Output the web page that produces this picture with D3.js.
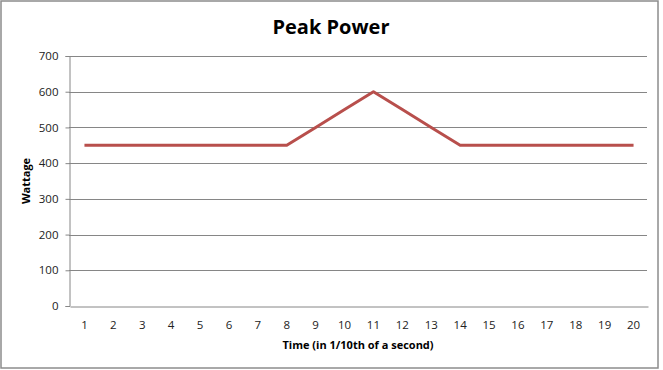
<!DOCTYPE html>
<html>
<head>
<meta charset="utf-8">
<script src="https://cdn.jsdelivr.net/npm/d3@7"></script>
<style>
  body { margin: 0; background: #fff; }
  text { font-family: "Open Sans", "DejaVu Sans", sans-serif; }
</style>
</head>
<body>
<div id="chart"></div>
<script>
// Peak power over time
const times = ["1","2","3","4","5","6","7","8","9","10","11","12","13","14","15","16","17","18","19","20"];
const wattage = [450,450,450,450,450,450,450,450,500,550,600,550,500,450,450,450,450,450,450,450];
const yTicks = [0,100,200,300,400,500,600,700];

const width = 663;
const height = 370;
const margin = {top: 56, right: 16, bottom: 64, left: 69};

const svg = d3.select("#chart")
  .append("svg")
  .attr("width", width)
  .attr("height", height);

// outer border
svg.append("rect")
  .attr("x", 1).attr("y", 1)
  .attr("width", width - 6).attr("height", height - 3)
  .attr("fill", "#fff")
  .attr("stroke", "#8c8c8c")
  .attr("stroke-width", 1.5);

const x = d3.scaleBand()
  .domain(times)
  .range([margin.left + 1, width - margin.right + 1]);

const y = d3.scaleLinear()
  .domain([0, 700])
  .range([height - margin.bottom, margin.top]);

// gridlines
svg.append("g")
  .selectAll("line")
  .data(yTicks.slice(1))
  .enter()
  .append("line")
  .attr("x1", margin.left)
  .attr("x2", width - margin.right)
  .attr("y1", d => Math.round(y(d)) + 0.5)
  .attr("y2", d => Math.round(y(d)) + 0.5)
  .attr("stroke", "#868686")
  .attr("stroke-width", 1);

// y axis
const yAxis = svg.append("g")
  .attr("transform", `translate(${margin.left + 0.5},0)`)
  .call(d3.axisLeft(y).tickValues(yTicks).tickSize(4).tickPadding(7));
yAxis.select(".domain").attr("stroke", "#868686");
yAxis.selectAll(".tick line").attr("stroke", "#868686");
yAxis.selectAll("text").style("font-size", "11.5px").attr("fill", "#222");

// x axis
const xAxis = svg.append("g")
  .attr("transform", `translate(0,${Math.round(y(0)) + 0.5})`)
  .call(d3.axisBottom(x).tickSize(0).tickPadding(14));
xAxis.select(".domain").attr("stroke", "#868686");
xAxis.selectAll("text").style("font-size", "11.5px").attr("fill", "#222");

// line
const line = d3.line()
  .x((d, i) => x(times[i]) + x.bandwidth() / 2)
  .y(d => y(d));

svg.append("path")
  .datum(wattage)
  .attr("d", line)
  .attr("fill", "none")
  .attr("stroke", "#b84f4c")
  .attr("stroke-width", 3)
  .attr("stroke-linejoin", "round");

// title
svg.append("text")
  .attr("x", 331)
  .attr("y", 34)
  .attr("text-anchor", "middle")
  .style("font-size", "20px")
  .style("font-weight", "bold")
  .attr("fill", "#000")
  .text("Peak Power");

// axis titles
svg.append("text")
  .attr("x", 358)
  .attr("y", 349)
  .attr("text-anchor", "middle")
  .style("font-size", "11px")
  .style("font-weight", "bold")
  .attr("fill", "#000")
  .text("Time (in 1/10th of a second)");

svg.append("text")
  .attr("transform", "translate(30,181) rotate(-90)")
  .attr("text-anchor", "middle")
  .style("font-size", "11px")
  .style("font-weight", "bold")
  .attr("fill", "#000")
  .text("Wattage");
</script>
</body>
</html>
